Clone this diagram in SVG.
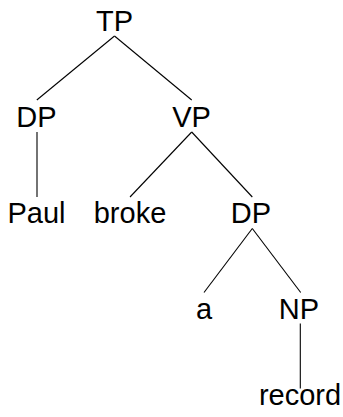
<svg xmlns="http://www.w3.org/2000/svg" width="343" height="417" viewBox="0 0 343 417">
  <style>
    .lbl { font-family: "Liberation Sans", Arial, Helvetica, sans-serif; font-size: 29px; fill: #000; text-anchor: middle; }
    .edge { stroke: #000; stroke-width: 1.1; fill: none; stroke-linecap: butt; }
  </style>
  <rect width="343" height="417" fill="#fff"/>
  <g id="connectors">
    <line class="edge" x1="114.5" y1="36" x2="36.8" y2="100"/>
    <line class="edge" x1="114.5" y1="36" x2="191.7" y2="100"/>
    <line class="edge" x1="37" y1="132" x2="37" y2="197"/>
    <line class="edge" x1="191.7" y1="132" x2="130" y2="197"/>
    <line class="edge" x1="191.7" y1="132" x2="252.3" y2="197"/>
    <line class="edge" x1="252.3" y1="228.5" x2="204" y2="292.5"/>
    <line class="edge" x1="252.3" y1="228.5" x2="300.7" y2="292.5"/>
    <line class="edge" x1="300.3" y1="323.5" x2="300.3" y2="388.5"/>
  </g>
  <g id="TP"><text class="lbl" x="114.5" y="31">TP</text></g>
  <g id="DP1"><text class="lbl" x="36.5" y="127">DP</text></g>
  <g id="VP"><text class="lbl" x="191.5" y="127">VP</text></g>
  <g id="Paul"><text class="lbl" x="36.5" y="223">Paul</text></g>
  <g id="broke"><text class="lbl" x="130" y="223">broke</text></g>
  <g id="DP2"><text class="lbl" x="251" y="223">DP</text></g>
  <g id="a"><text class="lbl" x="204" y="319">a</text></g>
  <g id="NP"><text class="lbl" x="299" y="319">NP</text></g>
  <g id="record"><text class="lbl" x="300" y="405">record</text></g>
</svg>
